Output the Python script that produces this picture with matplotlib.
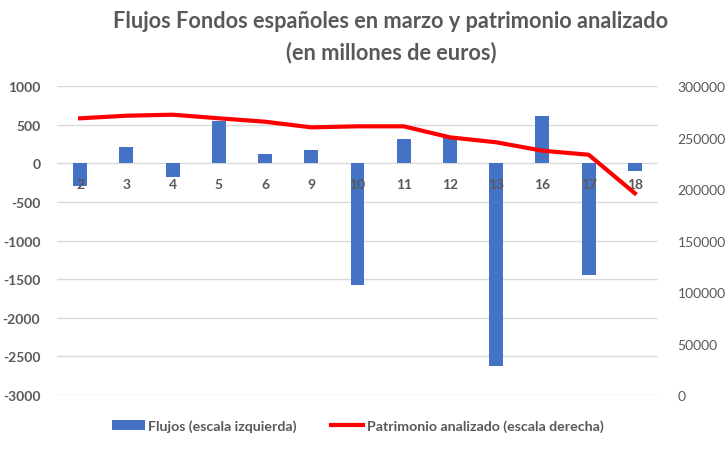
import matplotlib
matplotlib.use("Agg")
import matplotlib.pyplot as plt
import matplotlib.transforms as mtransforms
import numpy as np

categories = ["2", "3", "4", "5", "6", "9", "10", "11", "12", "13", "16", "17", "18"]
flujos = [-290, 210, -177, 550, 117, 181, -1580, 311, 346, -2625, 609, -1450, -100]
patrimonio = [268900, 271400, 272400, 268900, 265600, 260100, 261100, 261100,
              250400, 245600, 237400, 233500, 196000]
left_ticks = list(range(-3000, 1001, 500))
right_ticks = list(range(0, 300001, 50000))

plt.rcParams['font.family'] = ['Lato', 'DejaVu Sans']
gray = '#595959'

fig = plt.figure(figsize=(7.26, 4.52), dpi=100)
ax = fig.add_axes([57/726, 1-396/452, (658-57)/726, (396-87.3)/452])
x = np.arange(len(categories))
b = ax.bar(x, flujos, width=0.3, color='#4472C4', zorder=2)
ax.set_ylim(-3000, 1000)
ax.set_xlim(-0.5, len(categories)-0.5)
ax.set_yticks(left_ticks)
ax.set_yticklabels([str(t) for t in left_ticks])
ax.grid(axis='y', color='#D9D9D9', linewidth=1, zorder=0)
ax.set_axisbelow(True)
for s in ax.spines.values():
    s.set_visible(False)
ax.set_xticks([])
ax.tick_params(axis='y', length=0, pad=12, labelsize=10, labelcolor=gray)
for lab in ax.get_yticklabels():
    lab.set_fontweight('bold')

off = mtransforms.offset_copy(ax.transData, fig=fig, x=0, y=-21, units='dots')
for xi, c in zip(x, categories):
    ax.text(xi, 0, c, transform=off, ha='center', va='center', fontsize=10,
            fontweight='bold', color=gray, zorder=5)

ax2 = ax.twinx()
l, = ax2.plot(x, patrimonio, color='#FF0000', linewidth=3, zorder=3)
ax2.set_ylim(0, 300000)
ax2.set_yticks(right_ticks)
ax2.set_yticklabels([str(t) for t in right_ticks])
ax2.tick_params(axis='y', length=0, pad=14, labelsize=10, labelcolor=gray)
for s in ax2.spines.values():
    s.set_visible(False)

fig.text(391/726, 1-22/452, "Flujos Fondos españoles en marzo y patrimonio analizado",
         ha='center', va='center', fontsize=15.7, fontweight='bold', color=gray)
fig.text(391/726, 1-53/452, "(en millones de euros)",
         ha='center', va='center', fontsize=15.7, fontweight='bold', color=gray)

leg = fig.legend([b, l], ['Flujos (escala izquierda)', 'Patrimonio analizado (escala derecha)'],
                 loc='center', bbox_to_anchor=(358/726, 1-427/452), ncol=2, frameon=False,
                 fontsize=10.2, handlelength=2.3, handletextpad=0.25, columnspacing=2.4)
for t in leg.get_texts():
    t.set_color(gray)
    t.set_fontweight('bold')

fig.savefig('out.png', dpi=100)
